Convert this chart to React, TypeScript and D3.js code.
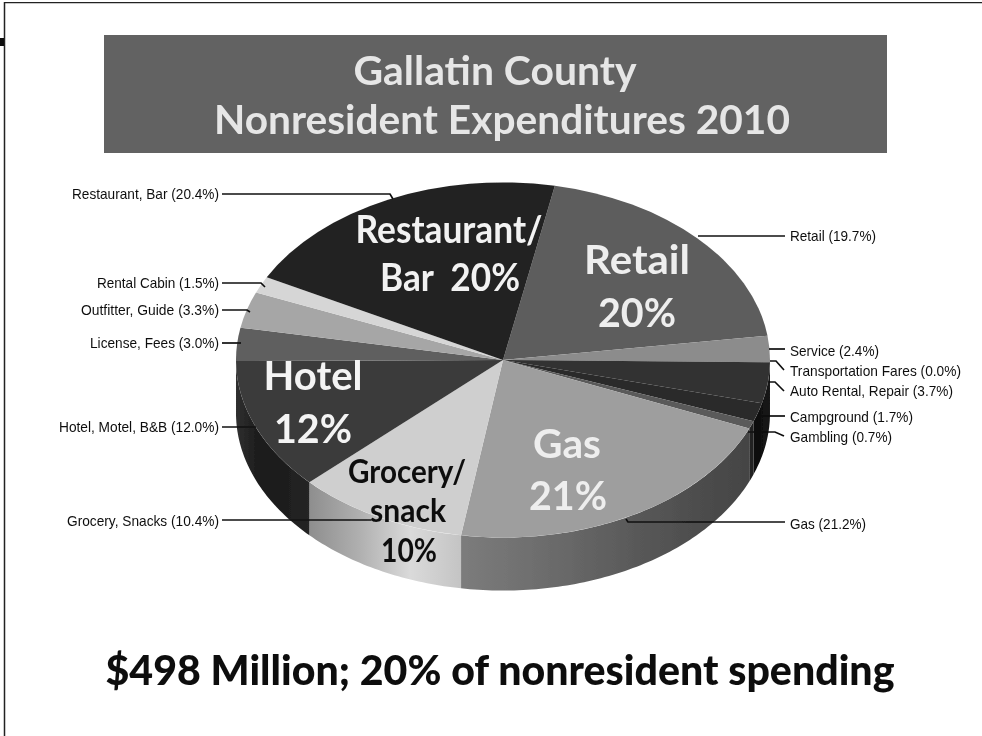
import React from "react";
import * as d3 from "d3";

const sliceNames = ["Retail","Service","Transportation Fares","Auto Rental, Repair","Campground","Gambling","Gas","Grocery, Snacks","Hotel, Motel, B&B","License, Fees","Outfitter, Guide","Rental Cabin","Restaurant, Bar"];
const sliceValues = [19.7,2.4,0.0,3.7,1.7,0.7,21.2,10.4,12.0,3.0,3.3,1.5,20.4];
const faceColors = ["#5d5d5d","#8c8c8c","#2a2a2a","#303030","#2a2a2a","#5a5a5a","url(#gasFace)","#cfcfcf","#3b3b3b","#5f5f5f","#a6a6a6","#d6d6d6","#222222"];
const wallStops: string[][] = [
  ["#333","#333"],["#111","#111"],["#111","#111"],["#161616","#111"],["#111","#0c0c0c"],["#222","#222"],
  ["#444","#555","#6a6a6a","#7c7c7c"],
  ["#c4c4c4","#dadada","#b0b0b0","#8e8e8e"],
  ["#252525","#1e1e1e","#1a1a1a","#303030"],["#222","#222"],["#222","#222"],["#222","#222"],["#222","#222"],
];

const cx = 503, cy = 360, R = 267, tilt = 0.665, depth = 53;
const startDeg = 11.2;

const leftLabels = [
  ["Restaurant, Bar (20.4%)", 194, 72, "M222,194H390L393,199"],
  ["Rental Cabin (1.5%)", 283, 97, "M222,283H261L265,287"],
  ["Outfitter, Guide (3.3%)", 310, 81, "M222,310H247L250,312"],
  ["License, Fees (3.0%)", 343, 90, "M222,343H241"],
  ["Hotel, Motel, B&B (12.0%)", 427, 59, "M222,427H256"],
  ["Grocery, Snacks (10.4%)", 521, 67, "M222,520H371"],
] as const;
const rightLabels = [
  ["Retail (19.7%)", 236, 876, "M698,236H785"],
  ["Service (2.4%)", 351, 879, "M769,349H785"],
  ["Transportation Fares (0.0%)", 371, 961, "M770,361H776L784,370"],
  ["Auto Rental, Repair (3.7%)", 391, 953, "M769,382H775L784,391"],
  ["Campground (1.7%)", 417, 913, "M757,416H785"],
  ["Gambling (0.7%)", 437, 892, "M748,432H775L784,436"],
  ["Gas (21.2%)", 524, 866, "M626,519L628,522H785"],
] as const;
const insideLabels = [
  ["Restaurant/", 449, 243, 187, "#f2f2f2", 38],
  ["Bar  20%", 450, 291, 140, "#f2f2f2", 38],
  ["Retail", 637, 274, 106, "#eeeeee", 40],
  ["20%", 637, 327, 78, "#eeeeee", 40],
  ["Hotel", 313, 390, 99, "#f4f4f4", 40],
  ["12%", 313, 443, 78, "#f4f4f4", 40],
  ["Gas", 567, 458, 68, "#eeeeee", 40],
  ["21%", 568, 510, 78, "#eeeeee", 40],
  ["Grocery/", 407, 483, 118, "#111111", 32],
  ["snack", 408, 522, 76, "#111111", 32],
  ["10%", 409, 562, 56, "#111111", 32],
] as const;

export default function App() {
  const pie = d3.pie<number>().sort(null).startAngle((startDeg * Math.PI) / 180).endAngle((startDeg * Math.PI) / 180 + 2 * Math.PI);
  const arcs = pie(sliceValues);
  const arc = d3.arc<d3.PieArcDatum<number>>().innerRadius(0).outerRadius(R);
  const wall = d3.area<number>()
    .x((a) => cx + R * Math.sin(a))
    .y0((a) => cy - R * tilt * Math.cos(a))
    .y1((a) => cy - R * tilt * Math.cos(a) + depth);
  const walls = arcs.map((d, i) => {
    const a0 = Math.max(d.startAngle, Math.PI / 2);
    const a1 = Math.min(d.endAngle, (3 * Math.PI) / 2);
    if (a1 <= a0) return null;
    const n = Math.max(2, Math.ceil((a1 - a0) * 60));
    const samples = d3.range(n + 1).map((k) => a0 + ((a1 - a0) * k) / n);
    return { i, d: wall(samples)!, x0: cx + R * Math.sin(a1), x1: cx + R * Math.sin(a0) };
  });
  const sans = "Lato, 'Open Sans', sans-serif";
  const small = "'Liberation Sans', Arial, sans-serif";
  return (
    <svg width={982} height={736} style={{ position: "absolute", left: 0, top: 0, background: "#fff" }}>
      <defs>
        <filter id="soft" x="0" y="0" width="100%" height="100%"><feGaussianBlur stdDeviation="0.55" /></filter>
        <radialGradient id="gasFace" gradientUnits="userSpaceOnUse" cx={cx} cy={cy} r={R}>
          <stop offset="0" stopColor="#8e8e8e" />
          <stop offset="1" stopColor="#9e9e9e" />
        </radialGradient>
        {walls.map((w) => w && (
          <linearGradient key={w.i} id={`wall${w.i}`} gradientUnits="userSpaceOnUse" x1={w.x1} x2={w.x0} y1={0} y2={0}>
            {wallStops[w.i].map((c, k, a) => <stop key={k} offset={k / (a.length - 1)} stopColor={c} />)}
          </linearGradient>
        ))}
      </defs>
      <g filter="url(#soft)">
        <path d="M4.5,736V2.5H982" fill="none" stroke="#222" strokeWidth={1.5} />
        <rect x={0} y={38} width={4} height={8} fill="#111" />
        <rect x={104} y={35} width={783} height={118} fill="#626262" />
        <text x={495} y={85} textAnchor="middle" fontFamily={sans} fontWeight={700} fontSize={41} fill="#e6e6e6" textLength={283} lengthAdjust="spacingAndGlyphs">Gallatin County</text>
        <text x={502} y={134} textAnchor="middle" fontFamily={sans} fontWeight={700} fontSize={41} fill="#e6e6e6" textLength={576} lengthAdjust="spacingAndGlyphs">Nonresident Expenditures 2010</text>

        {walls.map((w) => w && <path key={w.i} d={w.d} fill={`url(#wall${w.i})`} />)}
        <g transform={`translate(${cx},${cy}) scale(1,${tilt})`}>
          {arcs.map((d, i) => <path key={sliceNames[i]} d={arc(d)!} fill={faceColors[i]} />)}
        </g>

        {[...leftLabels, ...rightLabels].map((l) => <path key={l[0]} d={l[3]} fill="none" stroke="#111" strokeWidth={1.7} />)}
        {leftLabels.map((l) => (
          <text key={l[0]} x={l[2]} y={l[1] + 5} fontFamily={small} fontSize={15} fill="#111" textLength={219 - l[2]} lengthAdjust="spacingAndGlyphs">{l[0]}</text>
        ))}
        {rightLabels.map((l) => (
          <text key={l[0]} x={790} y={l[1] + 5} fontFamily={small} fontSize={15} fill="#111" textLength={l[2] - 790} lengthAdjust="spacingAndGlyphs">{l[0]}</text>
        ))}
        {insideLabels.map((l) => (
          <text key={l[0]} x={l[1]} y={l[2]} textAnchor="middle" fontFamily={sans} fontWeight={700} fontSize={l[5]} fill={l[4]} textLength={l[3]} lengthAdjust="spacingAndGlyphs" style={{ whiteSpace: "pre" }}>{l[0]}</text>
        ))}
        <text x={500} y={685} textAnchor="middle" fontFamily={sans} fontWeight={900} fontSize={41} fill="#0c0c0c" textLength={789} lengthAdjust="spacingAndGlyphs">$498 Million; 20% of nonresident spending</text>
      </g>
    </svg>
  );
}
